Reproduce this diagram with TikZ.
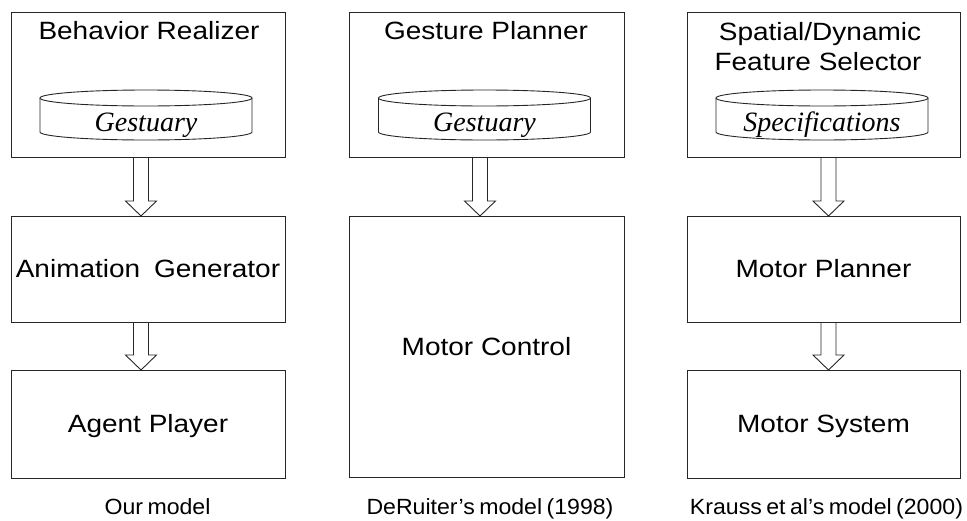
\documentclass[tikz,border=0pt]{standalone}
\usepackage{fontspec}
\setmainfont[FakeStretch=1.12]{Liberation Sans}
\newfontfamily\captf[FakeStretch=1.05,WordSpace=0.7]{Liberation Sans}
\newfontfamily\serifit{Liberation Serif}
\usetikzlibrary{calc}
\tikzset{
  ln/.style={draw=black!85, line width=0.9pt, line join=miter},
  box/.style={ln, rectangle, inner sep=0pt, outer sep=0pt, anchor=north west},
  boxlbl/.style={font=\fontsize{25}{30}\selectfont, text height=17.9pt, text depth=0pt},
  ttl/.style={font=\fontsize{25}{30}\selectfont, inner sep=0pt, anchor=base},
  cyltxt/.style={font=\serifit\itshape\fontsize{28}{32}\selectfont, inner sep=0pt, text height=18.5pt, text depth=0pt},
  capt/.style={font=\captf\fontsize{22}{26}\selectfont, inner sep=0pt, anchor=base}
}
\newcommand\blockarr[3]{%
  \coordinate (ax) at (#1,0);
  \draw[ln] ($(ax |- #2.south)+(-7.5pt,0)$) -- ($(ax |- #3.north)+(-7.5pt,15pt)$)
    -- ($(ax |- #3.north)+(-15.5pt,15pt)$) -- (ax |- #3.north)
    -- ($(ax |- #3.north)+(15.5pt,15pt)$) -- ($(ax |- #3.north)+(7.5pt,15pt)$)
    -- ($(ax |- #2.south)+(7.5pt,0)$);
}
\newcommand\cyldb[3]{% name, cx, text
  \node[cyltxt] (#1) at (#2,122) {#3};
  \draw[ln] (#2,98) ellipse [x radius=106, y radius=8];
  \draw[ln] (#2-106,98) -- (#2-106,132) arc [start angle=180, end angle=0, x radius=106, y radius=8] -- (#2+106,98);
}
\begin{document}
\begin{tikzpicture}[x=1pt,y=-1pt]
\useasboundingbox (0,0) rectangle (967,520);
% column 1
\node[box, minimum width=274, minimum height=145] (br) at (11,12) {};
\node[ttl] (brt) at (149,39) {Behavior Realizer};
\cyldb{g1}{146}{Gestuary}
\node[box, boxlbl, minimum width=274, minimum height=106] (ag) at (11,216) {Animation\hspace*{6pt} Generator};
\node[box, boxlbl, minimum width=274, minimum height=108] (ap) at (11,370) {Agent Player};
\blockarr{141}{br}{ag}
\blockarr{141}{ag}{ap}
% column 2
\node[box, minimum width=275, minimum height=145] (gp) at (349,12) {};
\node[ttl] (gpt) at (486,39) {Gesture Planner};
\cyldb{g2}{484.5}{Gestuary}
\node[box, boxlbl, minimum width=275, minimum height=261] (mc) at (349,216) {Motor Control};
\blockarr{480}{gp}{mc}
% column 3
\node[box, minimum width=273, minimum height=145] (sd) at (687,12) {};
\node[ttl] (sdt1) at (820,40) {Spatial/Dynamic};
\node[ttl] (sdt2) at (818,70) {Feature Selector};
\cyldb{g3}{822}{Specifications}
\node[box, boxlbl, minimum width=273, minimum height=106] (mp) at (687,216) {Motor Planner};
\node[box, boxlbl, minimum width=273, minimum height=108] (ms) at (687,370) {Motor System};
\blockarr{828.5}{sd}{mp}
\blockarr{828.5}{mp}{ms}
% captions
\node[capt] (c1) at (157.5,514) {Our model};
\node[capt] (c2) at (490,514) {DeRuiter’s model (1998)};
\node[capt] (c3) at (826.5,514) {Krauss et al’s model (2000)};
\end{tikzpicture}
\end{document}
